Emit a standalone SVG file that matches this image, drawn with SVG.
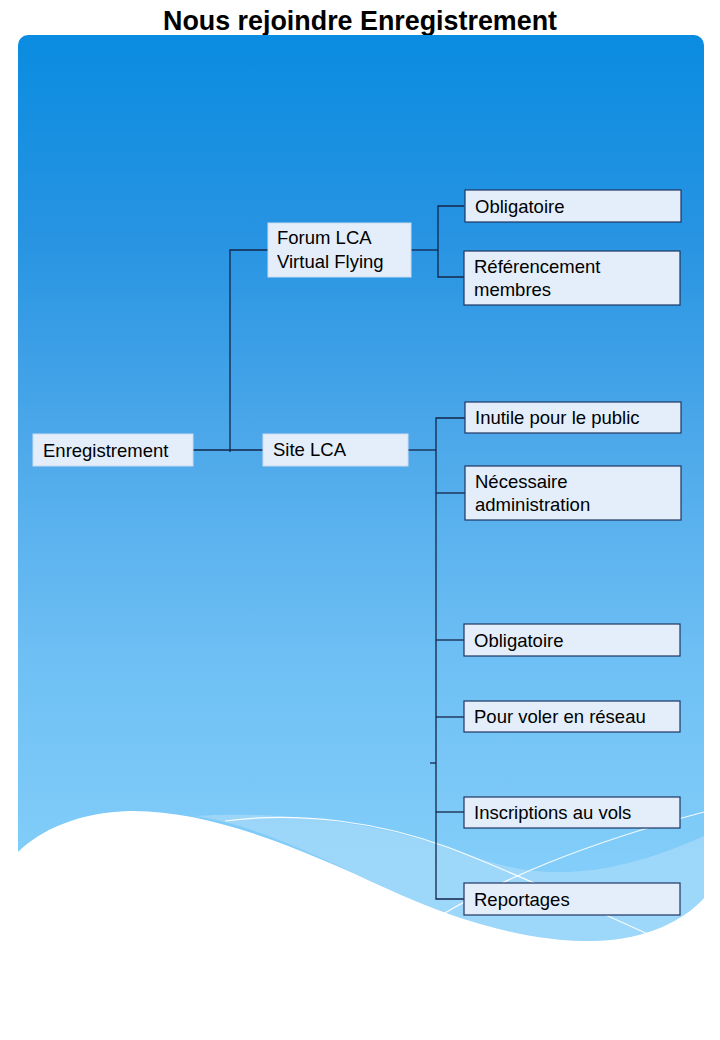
<svg xmlns="http://www.w3.org/2000/svg" width="720" height="1040" viewBox="0 0 720 1040">
  <defs>
    <linearGradient id="bg" x1="0" y1="35" x2="0" y2="860" gradientUnits="userSpaceOnUse">
      <stop offset="0" stop-color="#0a8ce0"/>
      <stop offset="0.25" stop-color="#2894e2"/>
      <stop offset="0.5" stop-color="#4ea9ea"/>
      <stop offset="0.75" stop-color="#6dbff4"/>
      <stop offset="1" stop-color="#82cdf9"/>
    </linearGradient>
    <style>
      .box { fill: #e3eefa; stroke: #1f3562; stroke-width: 1.2; }
      .boxl { fill: #e3eefa; stroke: #c9dcf0; stroke-width: 1; }
      .lbl { font-family: "Liberation Sans", Arial, sans-serif; font-size: 18.5px; fill: #000; }
      .con { fill: none; stroke: #15264a; stroke-width: 1.3; }
      .wl { fill: none; stroke: #ffffff; stroke-width: 1.2; opacity: 0.9; }
    </style>
  </defs>

  <rect x="0" y="0" width="720" height="1040" fill="#ffffff"/>
  <text x="360" y="30" text-anchor="middle" font-family="'Liberation Sans', Arial, sans-serif" font-weight="bold" font-size="27" textLength="394" lengthAdjust="spacingAndGlyphs" fill="#000">Nous rejoindre Enregistrement</text>

  <g id="background">
    <rect x="18" y="35" width="686" height="930" rx="10" ry="10" fill="url(#bg)"/>
    <path d="M195,816 C300,810 400,828 470,855 C540,882 610,878 704,836 L704,898 C685,920 645,940 595,941 C530,942 460,922 390,890 C320,858 260,826 195,816 Z" fill="#a6daf8" opacity="0.75"/>
    <path class="wl" d="M225,821 C300,811 380,822 450,848 C520,875 590,908 648,934"/>
    <path class="wl" d="M438,917 C500,880 580,845 704,812"/>
    <path d="M18,852 C40,830 80,812 130,811 C210,810 300,848 390,890 C460,922 530,942 595,941 C645,940 685,920 704,898 L720,898 L720,1040 L0,1040 L0,852 Z" fill="#ffffff"/>
  </g>

  <g id="connectors">
    <path class="con" d="M193,450 L230,450" stroke-width="2.2"/>
    <path class="con" d="M230,450 L263,450"/>
    <path class="con" d="M230,452 L230,250 L268,250"/>
    <path class="con" d="M411,250 L438,250"/>
    <path class="con" d="M464,206 L438,206 L438,277 L464,277"/>
    <path class="con" d="M408,450 L436,450"/>
    <path class="con" d="M465,418 L436,418 L436,899 L464,899"/>
    <path class="con" d="M436,493 L465,493"/>
    <path class="con" d="M436,640 L464,640"/>
    <path class="con" d="M436,717 L464,717"/>
    <path class="con" d="M430,763 L436,763"/>
    <path class="con" d="M436,812 L464,812"/>
  </g>

  <g id="n-enregistrement">
    <rect class="boxl" x="33" y="434" width="160" height="32"/>
    <text class="lbl" x="43" y="457">Enregistrement</text>
  </g>
  <g id="n-forum">
    <rect class="boxl" x="268" y="223" width="143" height="54"/>
    <text class="lbl" x="277" y="244">Forum LCA</text>
    <text class="lbl" x="277" y="268">Virtual Flying</text>
  </g>
  <g id="n-site">
    <rect class="boxl" x="263" y="434" width="145" height="32"/>
    <text class="lbl" x="273" y="456">Site LCA</text>
  </g>
  <g id="n-obligatoire1">
    <rect class="box" x="465" y="190" width="216" height="32"/>
    <text class="lbl" x="475" y="213">Obligatoire</text>
  </g>
  <g id="n-referencement">
    <rect class="box" x="464" y="251" width="216" height="54"/>
    <text class="lbl" x="474" y="273">Référencement</text>
    <text class="lbl" x="474" y="296">membres</text>
  </g>
  <g id="n-inutile">
    <rect class="box" x="465" y="402" width="216" height="31"/>
    <text class="lbl" x="475" y="424">Inutile pour le public</text>
  </g>
  <g id="n-necessaire">
    <rect class="box" x="465" y="466" width="216" height="54"/>
    <text class="lbl" x="475" y="488">Nécessaire</text>
    <text class="lbl" x="475" y="511">administration</text>
  </g>
  <g id="n-obligatoire2">
    <rect class="box" x="464" y="624" width="216" height="32"/>
    <text class="lbl" x="474" y="647">Obligatoire</text>
  </g>
  <g id="n-pourvoler">
    <rect class="box" x="464" y="701" width="216" height="31"/>
    <text class="lbl" x="474" y="723">Pour voler en réseau</text>
  </g>
  <g id="n-inscriptions">
    <rect class="box" x="464" y="797" width="216" height="31"/>
    <text class="lbl" x="474" y="819">Inscriptions au vols</text>
  </g>
  <g id="n-reportages">
    <rect class="box" x="464" y="883" width="216" height="32"/>
    <text class="lbl" x="474" y="906">Reportages</text>
  </g>
</svg>
